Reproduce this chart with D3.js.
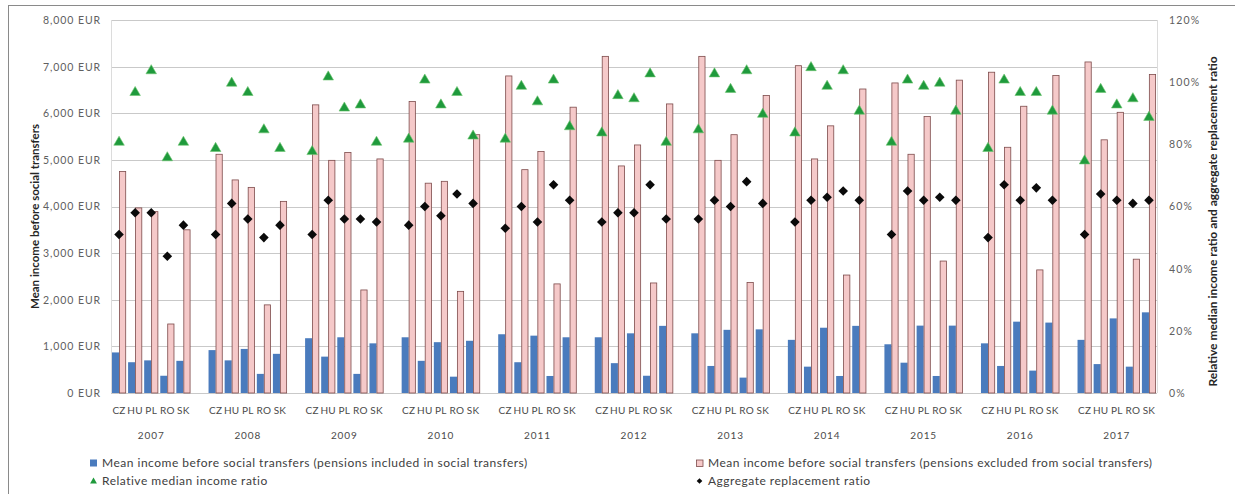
<!DOCTYPE html>
<html>
<head>
<meta charset="utf-8">
<script src="https://cdn.jsdelivr.net/npm/d3@7"></script>
<style>
  body { margin: 0; background: #fff; }
  svg { display: block; }
  text { font-family: Lato, "Liberation Sans", sans-serif; }
</style>
</head>
<body>
<svg id="chart" width="1235" height="494"></svg>
<script>
// Years and countries on the two-level category axis
const years = ["2007", "2008", "2009", "2010", "2011", "2012", "2013", "2014", "2015", "2016", "2017"];
const countries = ["CZ", "HU", "PL", "RO", "SK"];

// Mean income before social transfers, EUR (one row per year, CZ HU PL RO SK)
const incomePensionsIncluded = [
  [870, 660, 700, 370, 690],
  [920, 700, 945, 410, 840],
  [1175, 780, 1195, 410, 1065],
  [1195, 690, 1090, 350, 1120],
  [1260, 660, 1230, 365, 1195],
  [1195, 640, 1280, 370, 1440],
  [1280, 580, 1355, 330, 1365],
  [1140, 565, 1400, 365, 1440],
  [1045, 650, 1445, 365, 1445],
  [1065, 580, 1530, 480, 1510],
  [1140, 620, 1600, 565, 1730]
];
const incomePensionsExcluded = [
  [4750, 3970, 3890, 1480, 3500],
  [5120, 4570, 4410, 1890, 4110],
  [6180, 4990, 5160, 2210, 5020],
  [6250, 4500, 4540, 2180, 5540],
  [6800, 4790, 5180, 2340, 6130],
  [7220, 4870, 5320, 2360, 6200],
  [7220, 4990, 5540, 2370, 6380],
  [7020, 5020, 5730, 2530, 6520],
  [6650, 5120, 5930, 2830, 6710],
  [6880, 5270, 6150, 2640, 6810],
  [7100, 5430, 6020, 2870, 6830]
];

// Ratios, percent
const relativeMedianIncome = [
  [81, 97, 104, 76, 81],
  [79, 100, 97, 85, 79],
  [78, 102, 92, 93, 81],
  [82, 101, 93, 97, 83],
  [82, 99, 94, 101, 86],
  [84, 96, 95, 103, 81],
  [85, 103, 98, 104, 90],
  [84, 105, 99, 104, 91],
  [81, 101, 99, 100, 91],
  [79, 101, 97, 97, 91],
  [75, 98, 93, 95, 89]
];
const aggregateReplacement = [
  [51, 58, 58, 44, 54],
  [51, 61, 56, 50, 54],
  [51, 62, 56, 56, 55],
  [54, 60, 57, 64, 61],
  [53, 60, 55, 67, 62],
  [55, 58, 58, 67, 56],
  [56, 62, 60, 68, 61],
  [55, 62, 63, 65, 62],
  [51, 65, 62, 63, 62],
  [50, 67, 62, 66, 62],
  [51, 64, 62, 61, 62]
];

const leftTicks = [0, 1000, 2000, 3000, 4000, 5000, 6000, 7000, 8000];
const rightTicks = [0, 20, 40, 60, 80, 100, 120];

const legendLabels = [
  "Mean income before social transfers (pensions included in social transfers)",
  "Mean income before social transfers (pensions excluded from social transfers)",
  "Relative median income ratio",
  "Aggregate replacement ratio"
];

// ---- flatten into rows ----
const rows = [];
years.forEach((yr, i) => countries.forEach((c, j) => rows.push({
  key: yr + "-" + c, year: yr, country: c,
  incl: incomePensionsIncluded[i][j], excl: incomePensionsExcluded[i][j],
  rel: relativeMedianIncome[i][j], agg: aggregateReplacement[i][j]
})));

// category slots: five countries per year with an empty slot between years
const slots = [];
years.forEach((yr, i) => {
  countries.forEach(c => slots.push(yr + "-" + c));
  if (i < years.length - 1) slots.push("gap-" + yr);
});

const svg = d3.select("#chart");
const plot = { left: 111, right: 1157, top: 20, bottom: 393 };

const x = d3.scaleBand().domain(slots).range([plot.left, plot.right]).padding(0);
const xSeries = d3.scaleBand().domain(["incl", "excl"]).range([0, x.bandwidth()])
  .paddingInner(0).paddingOuter(0.14);
const yLeft = d3.scaleLinear().domain([0, 8000]).range([plot.bottom, plot.top]);
const yRight = d3.scaleLinear().domain([0, 120]).range([plot.bottom, plot.top]);

// outer frame
svg.append("rect")
  .attr("x", 8.5).attr("y", 5.5).attr("width", 1400).attr("height", 700)
  .attr("fill", "none").attr("stroke", "#8a8a8a").attr("stroke-width", 1);

// gridlines
svg.append("g").selectAll("line").data(leftTicks).join("line")
  .attr("x1", plot.left).attr("x2", plot.right)
  .attr("y1", d => Math.round(yLeft(d)) + 0.5).attr("y2", d => Math.round(yLeft(d)) + 0.5)
  .attr("stroke", "#c9c9c9").attr("stroke-width", 1);

// plot edges
svg.append("g").selectAll("line").data([plot.left, plot.right]).join("line")
  .attr("x1", d => d + 0.5).attr("x2", d => d + 0.5)
  .attr("y1", plot.top).attr("y2", plot.bottom)
  .attr("stroke", "#dcdcdc");

// left axis
const leftAxis = d3.axisLeft(yLeft).tickValues(leftTicks)
  .tickFormat(d => d3.format(",")(d) + " EUR").tickSize(0).tickPadding(10);
svg.append("g").attr("transform", `translate(${plot.left},0)`).call(leftAxis)
  .call(g => g.select(".domain").remove())
  .call(g => g.selectAll("text").attr("fill", "#606060").attr("font-size", 10.5)
    .attr("letter-spacing", 0.9).attr("font-family", "Lato, sans-serif"));

// right axis
const rightAxis = d3.axisRight(yRight).tickValues(rightTicks)
  .tickFormat(d => d + "%").tickSize(0).tickPadding(12);
svg.append("g").attr("transform", `translate(${plot.right},0)`).call(rightAxis)
  .call(g => g.select(".domain").remove())
  .call(g => g.selectAll("text").attr("fill", "#606060").attr("font-size", 10.5)
    .attr("letter-spacing", 1.2).attr("font-family", "Lato, sans-serif"));

// axis titles
svg.append("text")
  .attr("transform", `translate(39,${(plot.top + plot.bottom) / 2 + 10}) rotate(-90)`)
  .attr("text-anchor", "middle").attr("font-size", 11.5).attr("font-weight", "bold")
  .attr("fill", "#262626").text("Mean income before social transfers");
svg.append("text")
  .attr("transform", `translate(1217,${(plot.top + plot.bottom) / 2 + 15}) rotate(-90)`)
  .attr("text-anchor", "middle").attr("font-size", 12).attr("font-weight", "bold")
  .attr("fill", "#262626").text("Relative median income ratio and aggregate replacement ratio");

// bars
const bars = svg.append("g");
bars.selectAll("rect.incl").data(rows).join("rect").attr("class", "incl")
  .attr("x", d => x(d.key) + xSeries("incl"))
  .attr("width", xSeries.bandwidth())
  .attr("y", d => yLeft(d.incl))
  .attr("height", d => yLeft(0) - yLeft(d.incl))
  .attr("fill", "#4a7bbd");
bars.selectAll("rect.excl").data(rows).join("rect").attr("class", "excl")
  .attr("x", d => x(d.key) + xSeries("excl") + 0.4)
  .attr("width", xSeries.bandwidth() - 0.8)
  .attr("y", d => yLeft(d.excl))
  .attr("height", d => yLeft(0) - yLeft(d.excl))
  .attr("fill", "#f5c9c9").attr("stroke", "#7d4b4b").attr("stroke-width", 0.8);

const cx = d => x(d.key) + x.bandwidth() / 2;

// relative median income ratio markers
svg.append("g").selectAll("path").data(rows).join("path")
  .attr("d", d3.symbol(d3.symbolTriangle, 48))
  .attr("transform", d => `translate(${cx(d)},${yRight(d.rel) + 1})`)
  .attr("fill", "#1f9a3c").attr("stroke", "#6cc46f").attr("stroke-width", 0.6);

// aggregate replacement ratio markers
svg.append("g").selectAll("path").data(rows).join("path")
  .attr("d", d3.symbol(d3.symbolSquare, 46))
  .attr("transform", d => `translate(${cx(d)},${yRight(d.agg)}) rotate(45)`)
  .attr("fill", "#0a0a0a");

// country labels
svg.append("g").selectAll("text").data(rows).join("text")
  .attr("x", cx).attr("y", 414)
  .attr("text-anchor", "middle").attr("font-size", 10).attr("letter-spacing", 0.3)
  .attr("fill", "#4a4a4a").text(d => d.country);

// year labels
svg.append("g").selectAll("text").data(years).join("text")
  .attr("x", yr => (x(yr + "-CZ") + x(yr + "-SK") + x.bandwidth()) / 2)
  .attr("y", 439)
  .attr("text-anchor", "middle").attr("font-size", 10).attr("letter-spacing", 0.9)
  .attr("fill", "#4a4a4a").text(yr => yr);

// legend
const legend = svg.append("g").attr("font-size", 12).attr("letter-spacing", 0.5).attr("fill", "#404040");
const items = [
  { x: 90, y: 463, kind: "incl" },
  { x: 696, y: 463, kind: "excl" },
  { x: 90, y: 481, kind: "rel" },
  { x: 696, y: 481, kind: "agg" }
];
items.forEach((it, i) => {
  const g = legend.append("g").attr("transform", `translate(${it.x},${it.y})`);
  if (it.kind === "incl") {
    g.append("rect").attr("x", 0).attr("y", -3.5).attr("width", 7).attr("height", 7).attr("fill", "#4a7bbd");
  } else if (it.kind === "excl") {
    g.append("rect").attr("x", 0.5).attr("y", -3).attr("width", 6.5).attr("height", 6.5)
      .attr("fill", "#f5c9c9").attr("stroke", "#7d4b4b").attr("stroke-width", 0.8);
  } else if (it.kind === "rel") {
    g.append("path").attr("d", d3.symbol(d3.symbolTriangle, 20))
      .attr("transform", "translate(3.5,0.5)").attr("fill", "#1f9a3c");
  } else {
    g.append("path").attr("d", d3.symbol(d3.symbolSquare, 16))
      .attr("transform", "translate(3.5,0) rotate(45)").attr("fill", "#0a0a0a");
  }
  g.append("text").attr("x", 12).attr("y", 4).attr("fill", "#404040").text(legendLabels[i]);
});
</script>
</body>
</html>
